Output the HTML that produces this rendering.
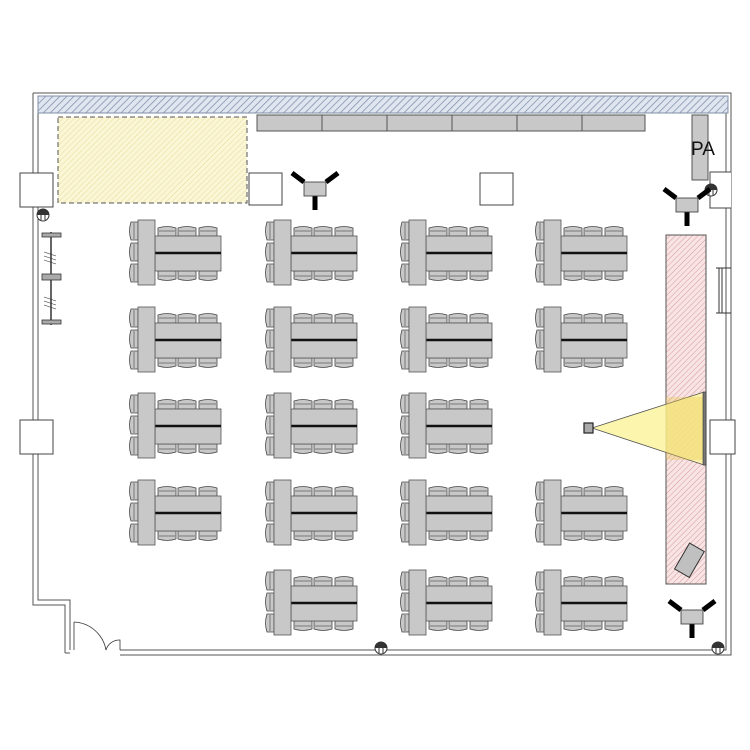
<!DOCTYPE html>
<html><head><style>html,body{margin:0;padding:0;background:#fff}svg{display:block}</style></head>
<body>
<svg width="750" height="750" viewBox="0 0 750 750" xmlns="http://www.w3.org/2000/svg">
<defs>
<pattern id="blue" width="5" height="5" patternUnits="userSpaceOnUse" patternTransform="rotate(45)"><rect width="5" height="5" fill="#dfe6f0"/><line x1="0" y1="0" x2="0" y2="5" stroke="#7f8ea8" stroke-width="1.5"/></pattern>
<pattern id="yel" width="4" height="4" patternUnits="userSpaceOnUse" patternTransform="rotate(45)"><rect width="4" height="4" fill="#fbf6d6"/><line x1="0" y1="0" x2="0" y2="4" stroke="#e6dc9c" stroke-width="1"/></pattern>
<pattern id="red" width="4" height="4" patternUnits="userSpaceOnUse" patternTransform="rotate(45)"><rect width="4" height="4" fill="#f8e4e4"/><line x1="0" y1="0" x2="0" y2="4" stroke="#d89a9a" stroke-width="1"/></pattern>
<g id="chairV"><path d="M10,0 H3 Q0,9 3,18 H10 Z" fill="#c8c8c8" stroke="#444" stroke-width="0.8"/><line x1="6" y1="1" x2="6" y2="17" stroke="#444" stroke-width="0.6"/></g>
<g id="chairT"><path d="M0,11 V3 Q9,0 18,3 V11 Z" fill="#c8c8c8" stroke="#444" stroke-width="0.8"/><line x1="1" y1="6" x2="17" y2="6" stroke="#444" stroke-width="0.6"/></g>
<g id="chairB"><path d="M0,0 V8 Q9,11 18,8 V0 Z" fill="#c8c8c8" stroke="#444" stroke-width="0.8"/><line x1="1" y1="5" x2="17" y2="5" stroke="#444" stroke-width="0.6"/></g>
<g id="grp">
<use href="#chairV" x="-10" y="2"/><use href="#chairV" x="-10" y="23"/><use href="#chairV" x="-10" y="44"/>
<use href="#chairT" x="20" y="5"/><use href="#chairT" x="40" y="5"/><use href="#chairT" x="61" y="5"/>
<use href="#chairB" x="20" y="51"/><use href="#chairB" x="40" y="51"/><use href="#chairB" x="61" y="51"/>
<rect x="17" y="16" width="66" height="35" fill="#c8c8c8" stroke="#555" stroke-width="0.8"/>
<line x1="17" y1="33" x2="83" y2="33" stroke="#111" stroke-width="2.5"/>
<rect x="0" y="0" width="17" height="65" fill="#c8c8c8" stroke="#555" stroke-width="0.8"/>
</g>
<g id="cam">
<line x1="0" y1="0" x2="-12" y2="-9" stroke="#000" stroke-width="5"/>
<line x1="22" y1="0" x2="34" y2="-9" stroke="#000" stroke-width="5"/>
<line x1="11" y1="14" x2="11" y2="28" stroke="#000" stroke-width="5"/>
<rect x="0" y="0" width="22" height="14" fill="#c8c8c8" stroke="#333" stroke-width="0.8"/>
</g>
<g id="outlet"><circle r="6" fill="#fff" stroke="#333" stroke-width="1"/><path d="M-6,0 A6,6 0 0 1 6,0 Z" fill="#333"/><line x1="-2" y1="-5" x2="-2" y2="5" stroke="#333"/><line x1="2" y1="-5" x2="2" y2="5" stroke="#333"/></g>
</defs>

<g fill="none" stroke="#555" stroke-width="1">
<path d="M33,93 H731 V655 H120"/>
<path d="M38,98 H726 V650 H120"/>
<path d="M33,93 V605 H65 V653"/>
<path d="M38,98 V600 H70 V650"/>
<line x1="65" y1="653" x2="70" y2="653"/>
</g>
<rect x="38" y="96" width="690" height="17" fill="url(#blue)" stroke="#7f8ea8" stroke-width="1"/>
<path d="M74,622 A34,34 0 0 1 106,650 M106,650 A14,14 0 0 1 120,640 V650" fill="none" stroke="#333" stroke-width="0.8"/>
<line x1="74" y1="622" x2="74" y2="650" stroke="#333" stroke-width="0.8"/>

<g fill="#fff" stroke="#444" stroke-width="1">
<rect x="20" y="173" width="33" height="34"/>
<rect x="20" y="420" width="33" height="34"/>
<rect x="249" y="173" width="33" height="32"/>
<rect x="480" y="173" width="33" height="32"/>
<rect x="710" y="420" width="25" height="34"/>
<path d="M731,172 H710 V208 H731"/>
</g>
<path d="M716,268 H731 M716,313 H731 M719,268 V313 M722,268 V313" stroke="#333" stroke-width="1" fill="none"/>

<rect x="58" y="117" width="189" height="86" fill="url(#yel)" stroke="#555" stroke-width="1" stroke-dasharray="5,3"/>

<g fill="#c8c8c8" stroke="#555" stroke-width="1">
<rect x="257" y="115" width="65" height="16"/><rect x="322" y="115" width="65" height="16"/><rect x="387" y="115" width="65" height="16"/>
<rect x="452" y="115" width="65" height="16"/><rect x="517" y="115" width="65" height="16"/><rect x="582" y="115" width="63" height="16"/>
<rect x="692" y="115" width="16" height="65"/>
</g>
<text x="691" y="155" font-family="Liberation Sans, sans-serif" font-size="19" fill="#111">PA</text>

<g stroke="#333">
<line x1="51" y1="232" x2="51" y2="325" stroke-width="1.5"/>
<rect x="42" y="233" width="19" height="4" fill="#aaa" stroke-width="0.8"/>
<rect x="42" y="274" width="19" height="6" fill="#aaa" stroke-width="0.8"/>
<rect x="42" y="320" width="19" height="4" fill="#aaa" stroke-width="0.8"/>
<path d="M44,252 l12,4 M44,256 l12,4 M44,260 l12,4 M44,297 l12,4 M44,301 l12,4 M44,305 l12,4" stroke-width="0.6"/>
</g>

<use href="#outlet" x="43" y="215"/>
<use href="#outlet" x="711" y="190"/>
<use href="#outlet" x="381" y="648"/>
<use href="#outlet" x="718" y="648"/>

<use href="#grp" x="138" y="220"/><use href="#grp" x="274" y="220"/><use href="#grp" x="409" y="220"/><use href="#grp" x="544" y="220"/>
<use href="#grp" x="138" y="307"/><use href="#grp" x="274" y="307"/><use href="#grp" x="409" y="307"/><use href="#grp" x="544" y="307"/>
<use href="#grp" x="138" y="393"/><use href="#grp" x="274" y="393"/><use href="#grp" x="409" y="393"/>
<use href="#grp" x="138" y="480"/><use href="#grp" x="274" y="480"/><use href="#grp" x="409" y="480"/><use href="#grp" x="544" y="480"/>
<use href="#grp" x="274" y="570"/><use href="#grp" x="409" y="570"/><use href="#grp" x="544" y="570"/>

<rect x="666" y="235" width="40" height="349" fill="url(#red)" stroke="#555" stroke-width="1"/>
<polygon points="592,428 704,392 704,465" fill="#fbf3a0" fill-opacity="0.85" stroke="#555" stroke-width="0.8"/>
<rect x="666" y="397" width="38" height="63" fill="#e8c84a" fill-opacity="0.35"/>
<rect x="703" y="392" width="3" height="73" fill="#777" stroke="#333" stroke-width="0.6"/>
<rect x="584" y="423" width="9" height="10" fill="#aaa" stroke="#222" stroke-width="1.2"/>
<rect x="681" y="545" width="17" height="30" fill="#c0c0c0" stroke="#333" stroke-width="1" transform="rotate(30 689 560)"/>

<use href="#cam" x="304" y="182"/>
<use href="#cam" x="676" y="198"/>
<use href="#cam" x="681" y="610"/>
</svg>
</body></html>
